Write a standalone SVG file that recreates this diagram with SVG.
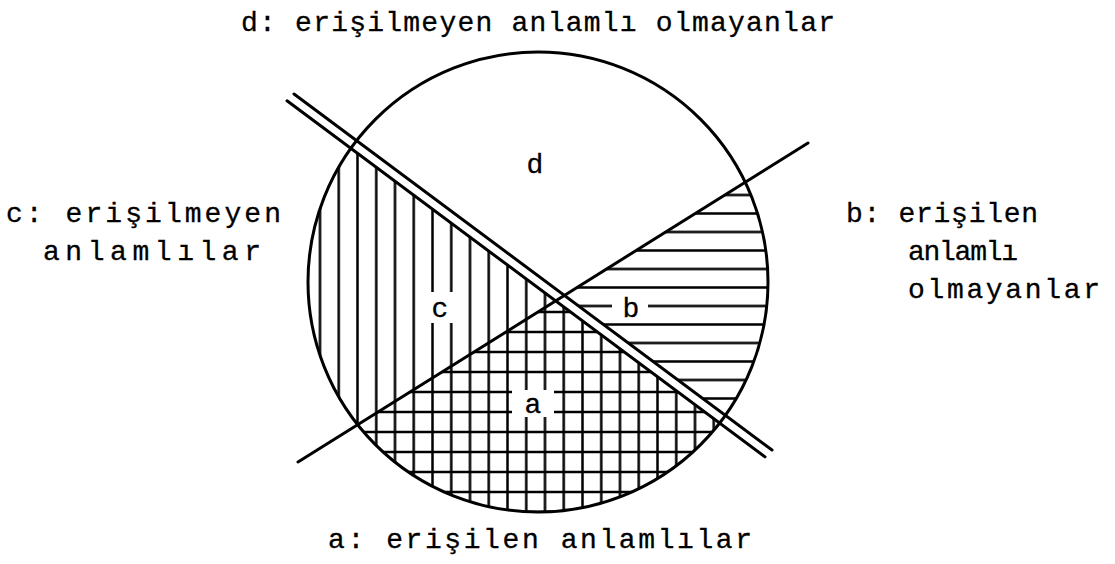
<svg xmlns="http://www.w3.org/2000/svg" width="1115" height="564" viewBox="0 0 1115 564">
  <style>
    .txt { font-family: "Liberation Mono", "DejaVu Sans Mono", monospace; font-size: 28px; fill: #000; stroke: #000; stroke-width: 0.3; }
    .lbl { font-family: "Liberation Mono", "DejaVu Sans Mono", monospace; font-size: 28px; fill: #000; stroke: #000; stroke-width: 0.3; }
    .main { stroke: #000; stroke-width: 3; fill: none; stroke-linecap: round; }
    .hatch { stroke: #000; stroke-width: 2.5; }
  </style>
  <defs>
    <pattern id="pv" patternUnits="userSpaceOnUse" x="310.625" y="0" width="18.75" height="20">
      <line class="hatch" x1="9.375" y1="0" x2="9.375" y2="20"/>
    </pattern>
    <pattern id="phb" patternUnits="userSpaceOnUse" x="0" y="185.75" width="20" height="18.5">
      <line class="hatch" x1="0" y1="9.25" x2="20" y2="9.25"/>
    </pattern>
    <pattern id="pha" patternUnits="userSpaceOnUse" x="0" y="302" width="20" height="20">
      <line class="hatch" x1="0" y1="10" x2="20" y2="10"/>
    </pattern>
    <clipPath id="clipCircle"><circle cx="538" cy="282" r="230"/></clipPath>
    <clipPath id="clipC"><polygon points="200,36 555.6,300.9 200,523.3"/></clipPath>
    <clipPath id="clipA"><polygon points="200,523.3 555.6,300.9 900,557.5 900,600 200,600"/></clipPath>
    <clipPath id="clipB"><polygon points="900,85.4 564.4,295.4 900,545.5"/></clipPath>
  </defs>
  <rect width="1115" height="564" fill="#fff"/>

  <g id="hatching" clip-path="url(#clipCircle)">
    <g id="region-c" clip-path="url(#clipC)">
      <rect x="300" y="40" width="300" height="500" fill="url(#pv)"/>
    </g>
    <g id="region-a" clip-path="url(#clipA)">
      <rect x="300" y="290" width="500" height="280" fill="url(#pv)"/>
      <rect x="300" y="290" width="500" height="280" fill="url(#pha)"/>
    </g>
    <g id="region-b" clip-path="url(#clipB)">
      <rect x="540" y="80" width="300" height="400" fill="url(#phb)"/>
    </g>
    <rect x="428" y="292" width="26" height="31" fill="#fff"/>
    <rect x="612" y="293" width="36" height="28" fill="#fff"/>
    <rect x="512" y="390" width="42" height="27" fill="#fff"/>
  </g>

  <g id="connectors">
    <circle id="set-circle" class="main" cx="538" cy="282" r="230"/>
    <line id="line-single" class="main" x1="298" y1="462" x2="808" y2="143"/>
    <line id="line-double-upper" class="main" x1="294" y1="94" x2="772" y2="450"/>
    <line id="line-double-lower" class="main" x1="287" y1="100.8" x2="765" y2="456.9"/>
  </g>

  <g id="node-d-label"><text class="lbl" x="535" y="173" text-anchor="middle">d</text></g>
  <g id="node-c-label"><text class="lbl" x="440" y="317" text-anchor="middle">c</text></g>
  <g id="node-b-label"><text class="lbl" x="631" y="317" text-anchor="middle">b</text></g>
  <g id="node-a-label"><text class="lbl" x="533" y="413" text-anchor="middle">a</text></g>

  <g id="node-d">
    <text class="txt" x="241" y="31" textLength="594" lengthAdjust="spacing">d: erişilmeyen anlamlı olmayanlar</text>
  </g>
  <g id="node-c">
    <text class="txt" x="6" y="222" textLength="275" lengthAdjust="spacing">c: erişilmeyen</text>
    <text class="txt" x="43" y="260" textLength="218" lengthAdjust="spacing">anlamlılar</text>
  </g>
  <g id="node-b">
    <text class="txt" x="846" y="222" textLength="192" lengthAdjust="spacing">b: erişilen</text>
    <text class="txt" x="908" y="260" textLength="110" lengthAdjust="spacing">anlamlı</text>
    <text class="txt" x="908" y="298" textLength="192" lengthAdjust="spacing">olmayanlar</text>
  </g>
  <g id="node-a">
    <text class="txt" x="328" y="548" textLength="424" lengthAdjust="spacing">a: erişilen anlamlılar</text>
  </g>
</svg>
